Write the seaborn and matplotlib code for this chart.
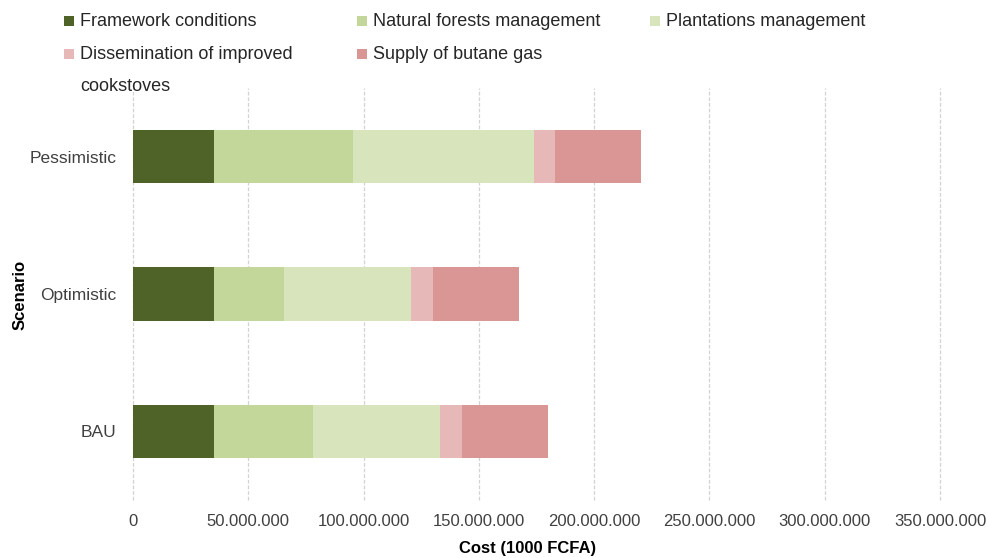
import numpy as np
import pandas as pd
import matplotlib
matplotlib.use("Agg")
import matplotlib.pyplot as plt
from matplotlib.ticker import FuncFormatter, MultipleLocator
from matplotlib.patches import Rectangle
import seaborn as sns

# Costs per scenario and component (1000 FCFA)
scenarios = ["Pessimistic", "Optimistic", "BAU"]
components = [
    "Framework conditions",
    "Natural forests management",
    "Plantations management",
    "Dissemination of improved\ncookstoves",
    "Supply of butane gas",
]
framework = [35_000_000, 35_000_000, 35_000_000]
natural_forests = [60_200_000, 30_500_000, 43_100_000]
plantations = [78_500_000, 55_100_000, 55_100_000]
cookstoves = [9_400_000, 9_300_000, 9_400_000]
butane = [37_400_000, 37_300_000, 37_400_000]
colors = ["#4f6228", "#c4d79b", "#d8e4bc", "#e6b8b7", "#da9694"]

sns.set_theme(style="white")
plt.rcParams["font.family"] = ["Liberation Sans", "DejaVu Sans"]

W, H = 988, 558
series = [framework, natural_forests, plantations, cookstoves, butane]
df = pd.DataFrame({"Scenario": scenarios})
running = np.zeros(len(scenarios))
for name, vals in zip(components, series):
    running = running + np.array(vals)
    df[name] = running.copy()

fig = plt.figure(figsize=(W / 100, H / 100), dpi=100)
ax = fig.add_axes([133 / W, 1 - 500 / H, (940 - 133) / W, (500 - 88) / H])

# stacked bars: draw cumulative totals from the outermost segment inwards
for name, col in reversed(list(zip(components, colors))):
    sns.barplot(data=df, x=name, y="Scenario", orient="h", color=col,
                width=0.39, ax=ax, saturation=1, edgecolor="none", linewidth=0)

ax.set_xlim(0, 350_000_000)
ax.set_ylim(2.5, -0.5)
ax.xaxis.set_major_locator(MultipleLocator(50_000_000))
ax.xaxis.set_major_formatter(FuncFormatter(lambda v, p: f"{int(v):,}".replace(",", ".")))
ax.grid(axis="x", color="#d3d3d3", linestyle=(0, (3, 1.5)), linewidth=0.9)
for gl in ax.get_xgridlines():
    gl.set_clip_on(False)
ax.set_axisbelow(True)
for s in ax.spines.values():
    s.set_visible(False)
ax.tick_params(axis="both", length=0, colors="#404040")
ax.tick_params(axis="x", labelsize=12, pad=10)
ax.tick_params(axis="y", labelsize=12.5, pad=12)
ax.set_xlabel("Cost (1000 FCFA)", fontsize=12, fontweight="bold", color="#000000")
ax.xaxis.set_label_coords((528 - 133) / (940 - 133), -(549 - 500) / (500 - 88))
ax.set_ylabel("Scenario", fontsize=12, fontweight="bold", color="#000000")
ax.yaxis.set_label_coords(-(133 - 20) / (940 - 133), (500 - 295) / (500 - 88))
ax.yaxis.label.set_va("center")
ax.xaxis.label.set_va("center")

# legend laid out in three fixed-width columns, two rows
legend_fs = 13
sq = 10
col_x = [64, 357, 650]
row_y = [22, 54.5]
slots = [(0, 0), (1, 0), (2, 0), (0, 1), (1, 1)]
for (ci, ri), label, col in zip(slots, components, colors):
    x0, yc = col_x[ci], row_y[ri]
    fig.patches.append(Rectangle((x0 / W, 1 - (yc + sq / 2 - 1) / H), sq / W, sq / H,
                                 transform=fig.transFigure, facecolor=col,
                                 edgecolor="none"))
    fig.text((x0 + 16) / W, 1 - yc / H, label.split("\n")[0], fontsize=legend_fs,
             color="#262626", ha="left", va="center")
    if "\n" in label:
        fig.text((x0 + 16) / W, 1 - (yc + 32) / H, label.split("\n")[1],
                 fontsize=legend_fs, color="#262626", ha="left", va="center")

fig.savefig("out.png", dpi=100)
